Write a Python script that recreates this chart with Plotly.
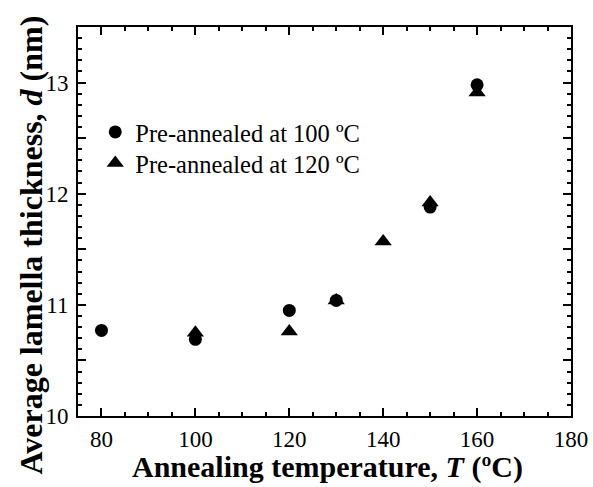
import plotly.graph_objects as go

# Data
temps_100 = [80, 100, 120, 130, 150, 160]
d_100 = [10.77, 10.69, 10.95, 11.04, 11.88, 12.98]
temps_120 = [100, 120, 130, 140, 150, 160]
d_120 = [10.75, 10.76, 11.04, 11.57, 11.92, 12.91]

name_100 = "Pre-annealed at 100 ºC"
name_120 = "Pre-annealed at 120 ºC"

x_ticks = [80, 100, 120, 140, 160, 180]
y_ticks = [10, 10.5, 11, 11.5, 12, 12.5, 13, 13.5]
y_ticktext = ["10", "", "11", "", "12", "", "13", ""]

x_title = "<b>Annealing temperature, <i>T</i> (ºC)</b>"
y_title = "<b>Average lamella thickness, <i>d</i> (nm)</b>"

FONT = "Liberation Serif, Times New Roman, serif"

fig = go.Figure()
fig.add_trace(go.Scatter(
    x=temps_100, y=d_100, mode="markers", name=name_100, legend="legend",
    marker=dict(symbol="circle", size=13, color="black"),
))
fig.add_trace(go.Scatter(
    x=temps_120, y=d_120, mode="markers", name=name_120, legend="legend2",
    marker=dict(symbol="triangle-up", size=15, color="black"),
))

axis_common = dict(
    showline=True, linecolor="black", linewidth=2, mirror="ticks",
    ticks="inside", ticklen=8, tickwidth=2, tickcolor="black",
    showgrid=False, zeroline=False, automargin=False,
    tickfont=dict(family=FONT, size=23, color="black"),
)

fig.update_xaxes(
    range=[75, 180], tickvals=x_ticks, ticklabelstandoff=1,
    minor=dict(dtick=5, ticks="inside", ticklen=4, tickwidth=1.5, tickcolor="black", showgrid=False),
    **axis_common,
)
fig.update_yaxes(
    range=[10, 13.5], tickvals=y_ticks, ticktext=y_ticktext, ticklabelstandoff=3,
    minor=dict(dtick=0.1, ticks="inside", ticklen=4, tickwidth=1.5, tickcolor="black", showgrid=False),
    **axis_common,
)

fig.add_annotation(
    text=x_title, xref="paper", yref="paper", x=0.507, y=-0.132,
    xanchor="center", yanchor="middle", showarrow=False,
    font=dict(family=FONT, size=30, color="black"),
)
fig.add_annotation(
    text=y_title, textangle=-90, xref="paper", yref="paper", x=-0.096, y=0.44,
    xanchor="center", yanchor="middle", showarrow=False,
    font=dict(family=FONT, size=32, color="black"),
)

legend_common = dict(
    xanchor="left", yanchor="middle",
    bgcolor="rgba(0,0,0,0)", borderwidth=0,
    font=dict(family=FONT, size=24.5, color="black"),
    itemwidth=30,
)

fig.update_layout(
    width=593, height=487,
    margin=dict(l=78, r=22, t=27, b=71),
    paper_bgcolor="white", plot_bgcolor="white",
    showlegend=True,
    legend=dict(x=0.035, y=0.73, **legend_common),
    legend2=dict(x=0.035, y=0.65, **legend_common),
)

fig.write_html("out.html")
